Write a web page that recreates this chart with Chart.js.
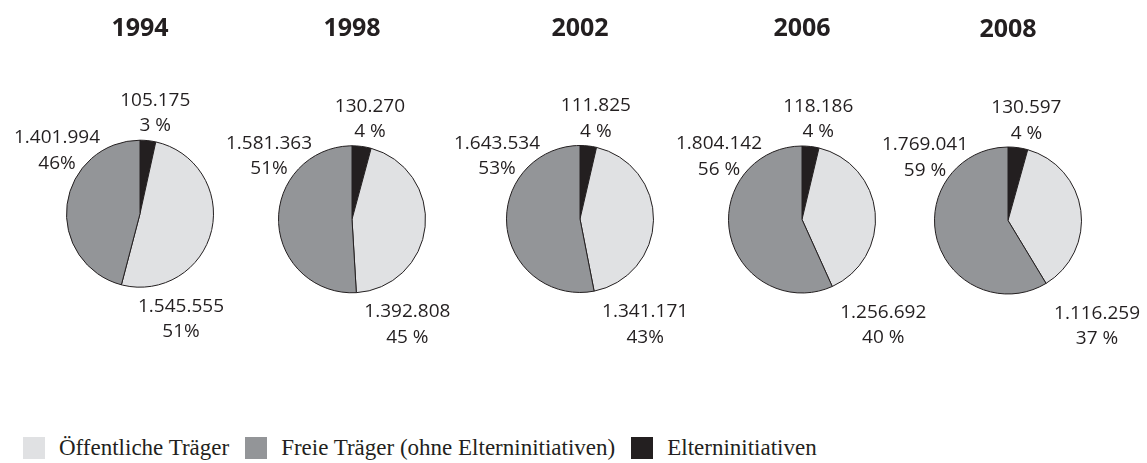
<!DOCTYPE html>
<html lang="de">
<head>
<meta charset="utf-8">
<title>Plätze nach Trägern</title>
<script src="https://cdn.jsdelivr.net/npm/chart.js@4.4.1/dist/chart.umd.min.js"></script>
<style>
  html, body { margin: 0; padding: 0; background: #fff; }
  #wrap { position: relative; width: 1147px; height: 463px; overflow: hidden; }
  .pie { position: absolute; top: 0; }
  #legend {
    position: absolute; left: 23px; top: 437px; height: 22px;
    display: flex; align-items: center;
    font-family: "Liberation Serif", "DejaVu Serif", serif; font-size: 23px;
    color: #231f20; white-space: nowrap;
  }
  #legend .item { display: flex; align-items: center; margin-right: 16px; }
  #legend .box { width: 22px; height: 22px; margin-right: 14px; }
</style>
</head>
<body>
<div id="wrap">
  <div id="legend"></div>
</div>
<script>
const years = ['1994', '1998', '2002', '2006', '2008'];
const categories = ['Öffentliche Träger', 'Freie Träger (ohne Elterninitiativen)', 'Elterninitiativen'];
const oeffentlich = [1545555, 1392808, 1341171, 1256692, 1116259];
const freie = [1401994, 1581363, 1643534, 1804142, 1769041];
const eltern = [105175, 130270, 111825, 118186, 130597];
const oeffentlichPct = ['51%', '45 %', '43%', '40 %', '37 %'];
const freiePct = ['46%', '51%', '53%', '56 %', '59 %'];
const elternPct = ['3 %', '4 %', '4 %', '4 %', '4 %'];

const colors = ['#e0e1e3', '#939598', '#231f20'];
const ink = '#231f20';
// where each pie sits on the page
const centres = [[139.5, 213.7], [352, 219.3], [579.5, 219], [801.5, 219.5], [1007.5, 220.5]];
const titleTop = [14, 14, 14, 14, 15];
const R = 74, W = 300, H = 463;

const wrap = document.getElementById('wrap');

function fmt(v) {
  return String(v).replace(/\B(?=(\d{3})+(?!\d))/g, '.');
}

// value + percent printed next to each slice
function sliceLabels(pcts) {
  return {
    id: 'sliceLabels',
    afterDatasetsDraw(chart) {
      const ctx = chart.ctx;
      const values = chart.data.datasets[0].data;
      ctx.save();
      ctx.font = '19px "Open Sans"';
      ctx.fillStyle = ink;
      ctx.textAlign = 'center';
      ctx.textBaseline = 'alphabetic';
      chart.getDatasetMeta(0).data.forEach((arc, i) => {
        const p = arc.getProps(['x', 'y', 'startAngle', 'endAngle', 'outerRadius'], true);
        const r = p.outerRadius + 40;
        const txt = fmt(values[i]);
        let lx, ly;
        if (i === 0) {
          // small slice at the top
          const mid = (p.startAngle + p.endAngle) / 2;
          lx = p.x + Math.cos(mid) * r + 3;
          ly = p.y + Math.sin(mid) * r + 5;
        } else if (i === 1) {
          // below the lower boundary
          const bx = p.x + Math.cos(p.endAngle) * p.outerRadius;
          lx = Math.max(bx, p.x - 10) + 8 + ctx.measureText(txt).width / 2;
          ly = p.y + 98;
        } else {
          const a = -137 * Math.PI / 180;
          lx = p.x + Math.cos(a) * r;
          ly = p.y + Math.sin(a) * r + 7;
        }
        ctx.fillText(txt, lx, ly);
        ctx.fillText(pcts[i], lx, ly + 25.5);
      });
      ctx.restore();
    }
  };
}

years.forEach((year, k) => {
  const [cx, cy] = centres[k];
  const canvas = document.createElement('canvas');
  canvas.width = W;
  canvas.height = H;
  canvas.className = 'pie';
  canvas.style.left = (cx - W / 2) + 'px';
  wrap.appendChild(canvas);

  new Chart(canvas.getContext('2d'), {
    type: 'pie',
    data: {
      labels: [categories[2], categories[0], categories[1]],
      datasets: [{
        data: [eltern[k], oeffentlich[k], freie[k]],
        backgroundColor: [colors[2], colors[0], colors[1]],
        borderColor: ink,
        borderWidth: 1,
        hoverOffset: 0
      }]
    },
    options: {
      responsive: false,
      animation: false,
      events: [],
      layout: { padding: { left: W / 2 - R, right: W / 2 - R, top: 0, bottom: H - cy - R } },
      plugins: {
        legend: { display: false },
        tooltip: { enabled: false },
        title: {
          display: true,
          text: year,
          color: ink,
          font: { family: 'Open Sans', size: 25, weight: 'bold', lineHeight: 1.2 },
          padding: { top: titleTop[k], bottom: cy - R - titleTop[k] - 30 }
        }
      }
    },
    plugins: [sliceLabels([elternPct[k], oeffentlichPct[k], freiePct[k]])]
  });
});

// legend row
const legend = document.getElementById('legend');
categories.forEach((name, i) => {
  const item = document.createElement('span');
  item.className = 'item';
  const box = document.createElement('span');
  box.className = 'box';
  box.style.background = colors[i];
  item.appendChild(box);
  item.appendChild(document.createTextNode(name));
  legend.appendChild(item);
});
</script>
</body>
</html>
